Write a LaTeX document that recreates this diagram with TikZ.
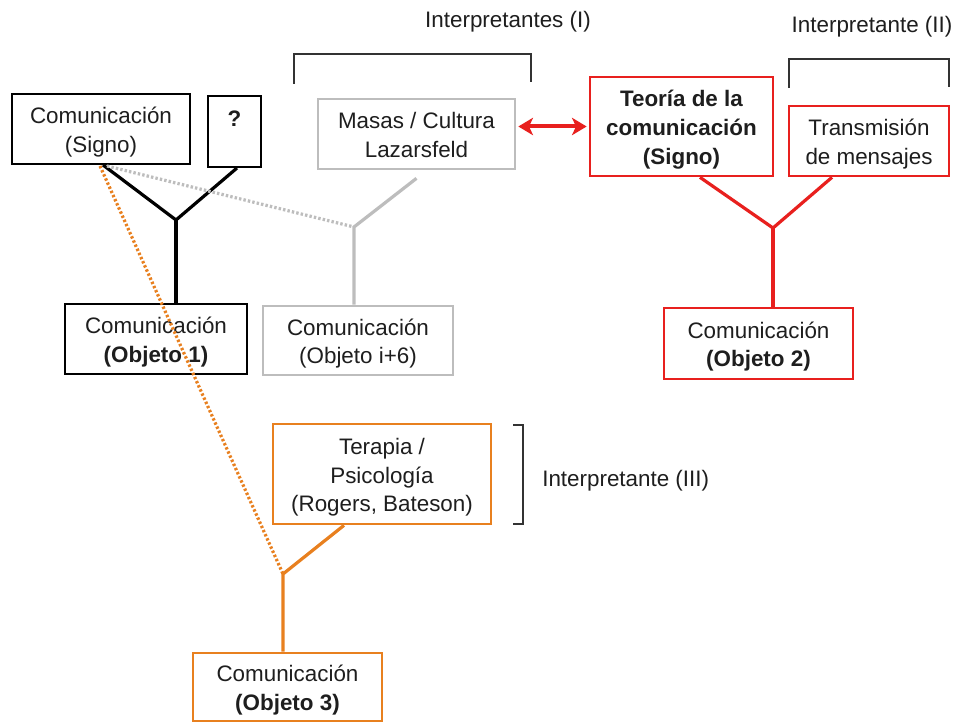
\documentclass[tikz,border=0pt]{standalone}
\usepackage{fontspec}
\setmainfont{Liberation Sans}
\usetikzlibrary{calc,arrows.meta}
\definecolor{myred}{HTML}{E8201E}
\definecolor{myorange}{HTML}{E8801F}
\definecolor{mygray}{HTML}{BDBDBD}
\definecolor{txt}{HTML}{1E1E1E}
\definecolor{brk}{HTML}{333333}
\newcommand{\bt}[1]{\raisebox{-2.5pt}[\height][\depth]{\begin{tabular}{@{}c@{}}#1\end{tabular}}}
\begin{document}
\begin{tikzpicture}[x=0.75pt,y=-0.75pt,
  font=\fontsize{16.8}{21.5}\selectfont,
  sz/.style 2 args={minimum width=#1*0.75pt, minimum height=#2*0.75pt},
  box/.style={draw=black, line width=1.5pt, inner sep=0pt, text=txt},
  gbox/.style={box, draw=mygray, line width=2pt},
  rbox/.style={box, draw=myred, line width=2pt},
  obox/.style={box, draw=myorange, line width=2pt},
  yline/.style={line width=2.4pt},
  dotline/.style={line width=2.4pt, dash pattern=on 1.8pt off 1.6pt},
  brack/.style={draw=brk, line width=1.2pt},
  lbl/.style={text=txt, inner sep=0pt}]
\useasboundingbox (0,0) rectangle (956,723);
\fill[white] (0,0) rectangle (956,723);

% boxes
\node[box, sz={178}{70}] (sig) at (101,129) {\bt{Comunicación\\(Signo)}};
\node[box, sz={53}{71}] (q) at (234.5,131.5) {\bt{\textbf{?}\\\mbox{}}};
\node[gbox, sz={197}{70}] (mas) at (416.5,134) {\bt{Masas / Cultura\\Lazarsfeld}};
\node[box, sz={182}{70}] (ob1) at (156,339) {\bt{Comunicación\\\textbf{(Objeto 1)}}};
\node[gbox, sz={190}{69}] (obi) at (358,340.5) {\bt{Comunicación\\(Objeto i+6)}};
\node[rbox, sz={183}{99}] (teo) at (681.5,126.5) {\bt{\textbf{Teoría de la}\\\textbf{comunicación}\\\textbf{(Signo)}}};
\node[rbox, sz={160}{70}] (tra) at (869,141) {\bt{Transmisión\\de mensajes}};
\node[rbox, sz={189}{71}] (ob2) at (758.5,343.5) {\bt{Comunicación\\\textbf{(Objeto 2)}}};
\node[obox, sz={218}{100}] (ter) at (382,474) {\bt{Terapia /\\Psicología\\(Rogers, Bateson)}};
\node[obox, sz={189}{68}] (ob3) at (287.5,687) {\bt{Comunicación\\\textbf{(Objeto 3)}}};

% labels
\node[lbl] (l1) at (508,22) {Interpretantes (I)};
\node[lbl] (l2) at (872,27) {Interpretante (II)};
\node[lbl, anchor=west] (l3) at (542,481) {Interpretante (III)};

% brackets
\draw[brack] (294,84) -- (294,54) -- (531,54) -- (531,82);
\draw[brack] (789,88) -- (789,59) -- (949,59) -- (949,87);
\draw[brack] (513,425) -- (523,425) -- (523,524) -- (513,524);

% junctions
\coordinate (J1) at (176,220);
\coordinate (J2) at (354,227);
\coordinate (J3) at (773,228);
\coordinate (J4) at (283,574);

% black Y
\draw[yline, black] ($(sig.south)+(2,0)$) -- (J1) -- ($(q.south)+(2.5,0)$);
\draw[yline, black] (J1) -- (J1 |- ob1.north);

% gray Y
\draw[yline, mygray] ($(mas.south)+(0,8)$) -- (J2) -- (J2 |- obi.north);

% red Y
\draw[yline, myred] ($(teo.south)+(18.5,0)$) -- (J3) -- ($(tra.south)+(-37,0)$);
\draw[yline, myred] (J3) -- (J3 |- ob2.north);

% orange Y
\draw[yline, myorange] ($(ter.south)+(-38,0)$) -- (J4) -- (J4 |- ob3.north);

% dotted lines
\draw[dotline, mygray] ($(sig.south)+(6,1)$) -- (J2);
\draw[dotline, myorange] ($(sig.south)+(-1,1)$) -- (J4);

% red double arrow
\draw[myred, line width=3pt, {Stealth[length=11pt,width=13pt,inset=3pt]}-{Stealth[length=11pt,width=13pt,inset=3pt]}]
  ($(mas.east |- teo.west)+(2,0)$) -- ($(teo.west)+(-2,0)$);
\end{tikzpicture}
\end{document}
